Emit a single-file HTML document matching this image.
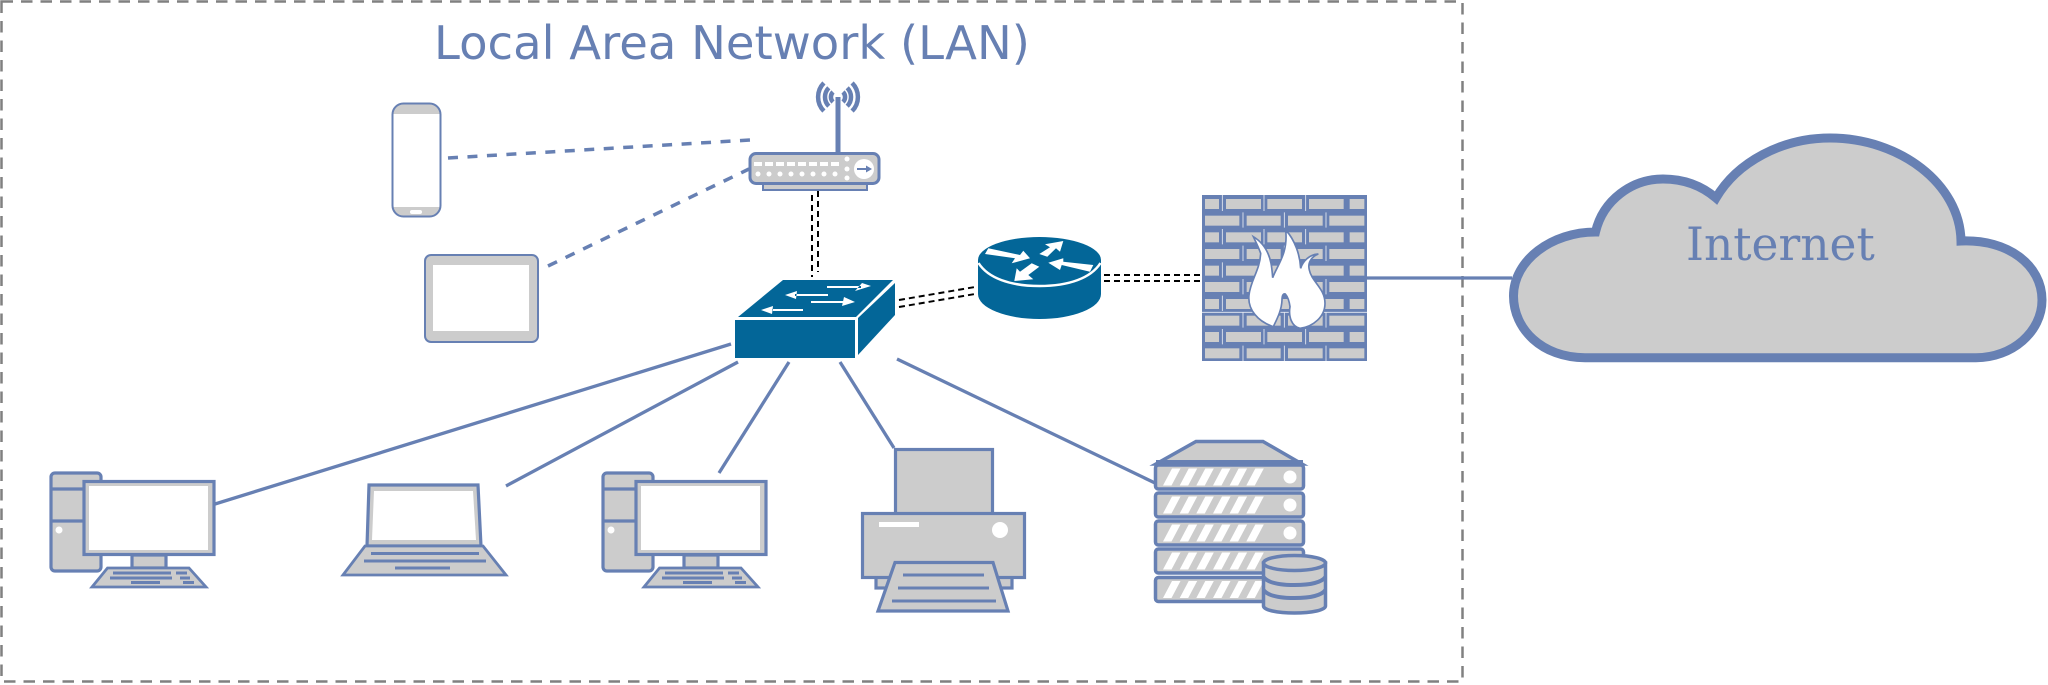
<!DOCTYPE html>
<html><head><meta charset="utf-8"><style>html,body{margin:0;padding:0;background:#fff}svg{display:block}</style></head><body>
<svg xmlns="http://www.w3.org/2000/svg" width="2048" height="685" viewBox="0 0 2048 685">
<defs>
<g id="pc">
<rect x="51" y="473" width="50" height="98" rx="4" fill="#ccc" stroke="#6780b3" stroke-width="3.200"/>
<path d="M51 489H90M51 521H90" stroke="#6780b3" stroke-width="3.200"/>
<circle cx="59" cy="530" r="3.500" fill="#fff"/>
<rect x="132" y="555" width="34" height="13" fill="#ccc" stroke="#6780b3" stroke-width="3.200"/>
<rect x="84" y="481.500" width="130" height="73" fill="#ccc" stroke="#6780b3" stroke-width="3.200"/>
<rect x="89" y="486" width="119" height="64" fill="#fff"/>
<path d="M107.500 568H189L206 587H92Z" fill="#ccc" stroke="#6780b3" stroke-width="2.800"/>
<path d="M113 573H171M176 573H187M110 578H172M180 578H190M131 582.500H160M183 582.500H194" stroke="#6780b3" stroke-width="3"/>
</g>
<g id="srv">
<rect x="1155.500" y="465" width="148" height="24" rx="3" fill="#ccc" stroke="#6780b3" stroke-width="3.500"/>
<path d="M1172 468.500h8.500l-9 17h-8.500zM1188.700 468.500h8.500l-9 17h-8.500zM1205.300 468.500h8.500l-9 17h-8.500zM1222 468.500h8.500l-9 17h-8.500zM1238.600 468.500h8.500l-9 17h-8.500zM1255.300 468.500h8.500l-9 17h-8.500z" fill="#fff"/>
<circle cx="1290" cy="477" r="6.500" fill="#fff"/>
</g>
<g id="rowA" fill="#ccc"><rect x="45" width="42" height="30"/><rect x="108" width="105" height="30"/><rect x="232" width="104" height="30"/><rect x="357" width="104" height="30"/><rect x="479" width="44" height="30"/></g>
<g id="rowB" fill="#ccc"><rect x="45" width="103" height="30"/><rect x="170" width="102" height="30"/><rect x="294" width="104" height="30"/><rect x="418" width="105" height="30"/></g>
</defs>

<rect x="1.500" y="1.500" width="1461" height="680" fill="#fff" stroke="#808080" stroke-width="2.500" stroke-dasharray="11.500 8"/>
<text x="434" y="59" font-family="'DejaVu Sans',sans-serif" font-size="46.500" fill="#6780b3">Local Area Network (LAN)</text>

<!-- wireless lines -->
<g stroke="#6780b3" stroke-width="3.500" fill="none" stroke-dasharray="10 9.500">
<path d="M448 158L750 140"/><path d="M548 266L749 169"/>
</g>
<!-- solid lines -->
<g stroke="#6780b3" stroke-width="3.300" fill="none">
<path d="M731 344L215 504"/><path d="M738 362L506 486"/><path d="M789 362L719 473"/><path d="M840 362L894 448"/><path d="M897 359L1155 483"/>
<path d="M1367 278H1512"/>
</g>
<!-- black double dashes -->
<g stroke="#000" stroke-width="2" fill="none" stroke-dasharray="6 4">
<path d="M812 195V277M818 191V272"/>
<path d="M899 300L975 287M899 307L975 294"/>
<path d="M1104 275H1204M1104 281H1204"/>
</g>

<!-- phone -->
<rect x="392.500" y="103.500" width="48" height="113" rx="11" fill="#fff"/>
<path d="M393 113V114H440V113Q440 104 430 104H403Q393 104 393 113ZM393 207H440V206V207Q440 216 430 216H403Q393 216 393 207Z" fill="#ccc"/>
<rect x="392.500" y="103.500" width="48" height="113" rx="11" fill="none" stroke="#6780b3" stroke-width="2"/>
<rect x="410" y="210" width="12" height="4" rx="2" fill="#fff"/>
<!-- tablet -->
<rect x="425" y="255" width="113" height="87" rx="6" fill="#ccc" stroke="#6780b3" stroke-width="2"/>
<rect x="433" y="265" width="96" height="66" fill="#fff"/>

<!-- wifi router -->
<rect x="835.500" y="97" width="5" height="57" fill="#6780b3"/>
<g fill="none" stroke="#6780b3" stroke-width="4.500">
<path d="M833 92A7 7 0 0 0 833 102M843 92A7 7 0 0 1 843 102"/>
<path d="M828.800 87.800A13 13 0 0 0 828.800 106.200M847.200 87.800A13 13 0 0 1 847.200 106.200"/>
<path d="M823.900 82.900A20 20 0 0 0 823.900 111.100M852.100 82.900A20 20 0 0 1 852.100 111.100"/>
</g>
<rect x="763" y="183" width="104" height="7" fill="#ccc" stroke="#6780b3" stroke-width="2"/>
<rect x="750" y="153.500" width="129" height="30" rx="6" fill="#ccc" stroke="#6780b3" stroke-width="3"/>
<g fill="#fff">
<rect x="754" y="162" width="8" height="4"/><rect x="765" y="162" width="8" height="4"/><rect x="776" y="162" width="8" height="4"/><rect x="787" y="162" width="8" height="4"/><rect x="798" y="162" width="8" height="4"/><rect x="809" y="162" width="8" height="4"/><rect x="820" y="162" width="8" height="4"/><rect x="831" y="162" width="8" height="4"/>
<circle cx="758" cy="174" r="2.500"/><circle cx="769" cy="174" r="2.500"/><circle cx="780" cy="174" r="2.500"/><circle cx="791" cy="174" r="2.500"/><circle cx="802" cy="174" r="2.500"/><circle cx="813" cy="174" r="2.500"/><circle cx="824" cy="174" r="2.500"/><circle cx="835" cy="174" r="2.500"/>
<circle cx="847" cy="159" r="2.500"/><circle cx="847" cy="169" r="2.500"/><circle cx="847" cy="178" r="2.500"/>
<circle cx="864" cy="169" r="10"/>
</g>
<path d="M857 169H868" stroke="#6780b3" stroke-width="2"/><path d="M872 169L866 165.500V172.500Z" fill="#6780b3"/>

<!-- switch -->
<path d="M783 280H893L856 317H738Z" fill="#036698"/>
<rect x="735" y="320" width="120" height="38" fill="#036698"/>
<path d="M858 318L895 283V315L858 355Z" fill="#036698"/>
<g fill="#fff">
<path d="M827 286h34v2h-34zM855 291L871 286L862 283Z"/>
<path d="M828 294h-33v2h33zM785 295L797 291L796 299Z"/>
<path d="M811 301h33v2h-33zM844 297L855 302L842 306Z"/>
<path d="M803 309h-31v2h31zM761 310L773 306L772 314Z"/>
</g>

<!-- router -->
<path d="M978 260A61.500 23 0 0 1 1101 260V294A61.500 25 0 0 1 978 294Z" fill="#036698"/>
<path d="M978.500 263C988 278 1010 286 1039.500 286C1069 286 1091 278 1100.500 263" fill="none" stroke="#fff" stroke-width="2.500"/>
<g fill="#fff">
<path d="M985 254L988.300 248.300L1020 255L1023.300 250.700L1030 258.300L1011.700 263.300L1015 258.300Z"/>
<path d="M1063.300 241L1045 244.300L1050 247.300L1039.300 254L1047.300 256.700L1056 248.300L1060 251.700Z"/>
<path d="M1048.300 262.700L1063.300 258.300L1063.300 261.700L1093.300 265L1090 271.700L1061.700 265L1060 270Z"/>
<path d="M1014.300 281L1033.300 279.300L1028.300 275L1039.300 266.700L1031.700 263.300L1020 271.700L1016.700 268.300Z"/>
</g>

<!-- firewall -->
<rect x="1202" y="195" width="165" height="166" fill="#6780b3"/>
<g transform="translate(1190 185) scale(.33333)">
<use href="#rowA" y="42"/><use href="#rowB" y="92"/><use href="#rowA" y="142"/><use href="#rowB" y="192"/><use href="#rowA" y="242"/><use href="#rowB" y="291"/><use href="#rowA" y="342"/><use href="#rowB" y="392"/><use href="#rowA" y="441"/><use href="#rowB" y="490"/>
<path d="M97 30V78M222 30V78M347 30V78M159 82V128M283 82V128M408 82V128M97 132V178M222 132V178M347 132V178M159 182V228M283 182V228M408 182V228M97 232V278M222 232V278M347 232V278M159 282V328M283 282V328M408 282V328M97 332V378M222 332V378M347 332V378M159 382V428M283 382V428M408 382V428M97 432V478M222 432V478M347 432V478M159 482V528M283 482V528M408 482V528M35 382H532" stroke="#fff" stroke-width="2.500" opacity=".85"/>
<path d="M250 425C205 410 172 375 177 330C182 285 210 255 212 205C205 185 197 170 190 155C215 170 235 195 243 235C246 250 247 265 248 278C262 240 295 205 287 135C315 165 330 210 332 250C338 230 358 208 385 207C365 215 352 232 358 255C365 290 405 310 405 355C405 395 370 425 330 430C305 425 295 395 300 365C298 350 293 335 286 327C280 325 276 330 276 345C275 375 262 400 250 425Z" fill="#fff" stroke="#6780b3" stroke-width="5"/>
</g>

<!-- cloud -->
<path d="M1585 357.700C1542 357.700 1513.500 329 1513.500 296C1513.500 260 1552 232 1595.500 232C1603 200 1632 179 1663 179C1684 179 1702 186 1716 198C1737 162 1782 138 1830 138C1900 138 1960 184 1961 241C2008 239 2042 265 2042 300C2042 332 2012 357.700 1976 357.700Z" fill="#ccc" stroke="#6780b3" stroke-width="9"/>
<text x="1686" y="260" font-family="'DejaVu Serif',serif" font-size="45.500" fill="#6780b3">Internet</text>

<!-- desktops -->
<use href="#pc"/>
<use href="#pc" x="552"/>

<!-- laptop -->
<path d="M369 485H478L481 546H367Z" fill="#ccc" stroke="#6780b3" stroke-width="3.200"/>
<path d="M374 491H473L476 540H372Z" fill="#fff"/>
<path d="M365 546H483L506 575H343Z" fill="#ccc" stroke="#6780b3" stroke-width="2.800"/>
<path d="M371 553.500H479M364 561H486M395 568H450" stroke="#6780b3" stroke-width="3"/>

<!-- printer -->
<rect x="876" y="570" width="136" height="18" fill="#ccc" stroke="#6780b3" stroke-width="3.200"/>
<rect x="895.500" y="449.500" width="97" height="65" fill="#ccc" stroke="#6780b3" stroke-width="3.200"/>
<rect x="862.500" y="513.500" width="162" height="64" fill="#ccc" stroke="#6780b3" stroke-width="3.200"/>
<rect x="879" y="522" width="40" height="5" fill="#fff"/>
<circle cx="1000" cy="530" r="8" fill="#fff"/>
<path d="M895 562.500H993L1008 611H878Z" fill="#ccc" stroke="#6780b3" stroke-width="3.200"/>
<path d="M903 575H984M898 588H989M892 601H996" stroke="#6780b3" stroke-width="3"/>

<!-- server -->
<path d="M1196 441.500H1263L1302 464H1156Z" fill="#ccc" stroke="#6780b3" stroke-width="3.500"/>
<path d="M1156 460H1303V466H1156Z" fill="#6780b3"/>
<use href="#srv"/><use href="#srv" y="28"/><use href="#srv" y="56"/><use href="#srv" y="84"/><use href="#srv" y="112.500"/>
<path d="M1263.500 563V606C1263.500 610 1277 613 1294.500 613C1312 613 1325.500 610 1325.500 606V563Z" fill="#ccc" stroke="#6780b3" stroke-width="3.500"/>
<ellipse cx="1294.500" cy="563" rx="31" ry="7.500" fill="#ccc" stroke="#6780b3" stroke-width="3.500"/>
<path d="M1263.500 577C1268 583 1281 585 1294.500 585C1308 585 1321 583 1325.500 577M1263.500 590C1268 596 1281 598 1294.500 598C1308 598 1321 596 1325.500 590" fill="none" stroke="#6780b3" stroke-width="4"/>
</svg>
</body></html>
